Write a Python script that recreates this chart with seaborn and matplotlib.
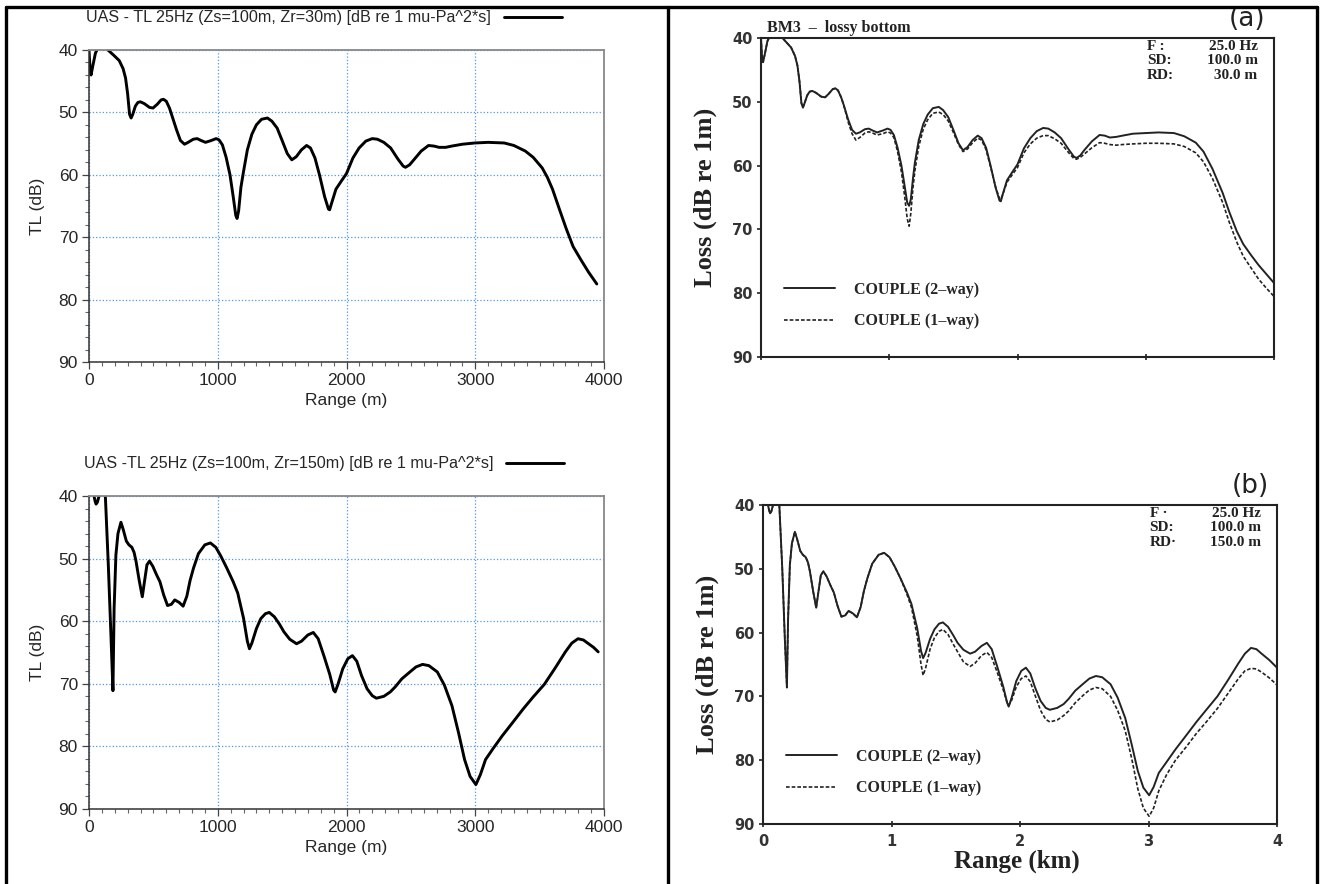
import numpy as np
import pandas as pd
import matplotlib
matplotlib.use('Agg')
import matplotlib.pyplot as plt
import seaborn as sns
from matplotlib.ticker import MultipleLocator
from matplotlib.lines import Line2D

# ---- data ----
# left top: UAS, Zr = 30 m  (range in m, TL in dB)
range_top = [0, 8, 16, 30, 50, 62, 100, 147, 190, 235,
             265, 284, 300, 315, 327, 340, 360, 380, 399, 430,
             470, 497, 530, 560, 578, 600, 625, 644, 680, 710,
             742, 770, 810, 840, 870, 905, 950, 987, 1010, 1036,
             1065, 1095, 1120, 1140, 1150, 1162, 1180, 1200, 1230, 1265,
             1300, 1340, 1386, 1420, 1461, 1500, 1540, 1575, 1610, 1650,
             1690, 1720, 1755, 1790, 1830, 1860, 1869, 1885, 1918, 1960,
             2000, 2050, 2098, 2150, 2200, 2240, 2290, 2343, 2400, 2440,
             2458, 2490, 2523, 2580, 2637, 2680, 2719, 2770, 2817, 2900,
             2997, 3100, 3225, 3300, 3389, 3450, 3520, 3560, 3600, 3650,
             3706, 3760, 3820, 3880, 3944]
tl_top = [40, 43, 44, 42.5, 40.5, 40, 38, 40, 40.8, 41.7,
          43, 44.5, 47, 50.3, 50.9, 50.3, 49, 48.4, 48.3, 48.6,
          49.2, 49.3, 48.7, 48, 47.9, 48.2, 49.3, 50.5, 52.8, 54.5,
          55.1, 54.8, 54.3, 54.2, 54.5, 54.8, 54.5, 54.2, 54.4, 55.2,
          57.2, 60, 63.5, 66.5, 67, 65.8, 62, 59.5, 56, 53.5,
          52, 51.1, 50.9, 51.4, 52.5, 54.5, 56.6, 57.6, 57.1, 56,
          55.3, 55.7, 57.3, 60, 63.5, 65.5, 65.6, 64.5, 62.3, 61,
          59.8, 57.3, 55.7, 54.6, 54.2, 54.3, 54.8, 55.7, 57.5, 58.6,
          58.8, 58.4, 57.6, 56.2, 55.3, 55.4, 55.6, 55.6, 55.4, 55.1,
          54.9, 54.8, 54.9, 55.3, 56.2, 57.2, 58.9, 60.4, 62.3, 65.3,
          68.6, 71.5, 73.6, 75.6, 77.5]

# left bottom: UAS, Zr = 150 m
range_bot = [0, 39, 47, 55, 65, 78, 100, 127, 150, 170,
             186, 195, 209, 225, 248, 265, 290, 310, 333, 350,
             365, 390, 414, 430, 450, 470, 495, 525, 551, 580,
             610, 640, 666, 700, 731, 760, 785, 812, 850, 900,
             943, 985, 1024, 1070, 1120, 1155, 1200, 1230, 1246, 1265,
             1300, 1334, 1370, 1400, 1440, 1480, 1514, 1560, 1612, 1650,
             1700, 1742, 1780, 1824, 1870, 1900, 1912, 1935, 1971, 2010,
             2046, 2080, 2117, 2160, 2200, 2232, 2290, 2340, 2378, 2430,
             2493, 2540, 2591, 2640, 2705, 2760, 2819, 2870, 2917, 2960,
             3005, 3040, 3080, 3140, 3210, 3290, 3373, 3450, 3536, 3620,
             3700, 3750, 3798, 3840, 3880, 3920, 3955]
tl_bot = [38, 40, 40.8, 41.3, 41, 40, 38, 40, 51, 62,
          71.1, 58, 49.4, 46, 44.2, 45.3, 47.2, 47.8, 48.2, 49,
          50.4, 53.5, 56.1, 53.8, 51, 50.4, 51.2, 52.6, 53.7, 55.8,
          57.5, 57.3, 56.6, 57, 57.6, 56, 53.5, 51.5, 49.2, 47.8,
          47.5, 48.2, 49.6, 51.5, 53.7, 55.5, 59.5, 63.2, 64.4, 63.5,
          61.2, 59.6, 58.8, 58.6, 59.3, 60.5, 61.7, 62.9, 63.6, 63.2,
          62.2, 61.8, 62.8, 65.5, 68.5, 71, 71.3, 70, 67.6, 66,
          65.5, 66.4, 68.7, 70.8, 71.9, 72.3, 72, 71.3, 70.5, 69.2,
          68.1, 67.3, 66.9, 67.1, 68.1, 70.2, 73.5, 77.8, 82.1, 84.8,
          86.1, 84.5, 82.1, 80.3, 78.3, 76.2, 74.0, 72.1, 70.1, 67.5,
          64.9, 63.5, 62.8, 63, 63.6, 64.2, 64.9]

# right (a): COUPLE, RD = 30 m  (range in km, loss in dB)
range_a = [0, .008, .016, .03, .05, .062, .1, .147, .19, .235,
           .265, .284, .3, .315, .327, .34, .36, .38, .4, .43,
           .47, .5, .53, .56, .58, .6, .625, .645, .68, .71,
           .74, .77, .81, .84, .87, .905, .95, .987, 1.01, 1.036,
           1.065, 1.095, 1.12, 1.14, 1.155, 1.168, 1.185, 1.2, 1.23, 1.265,
           1.3, 1.34, 1.386, 1.42, 1.46, 1.5, 1.54, 1.575, 1.61, 1.65,
           1.69, 1.72, 1.755, 1.79, 1.83, 1.86, 1.87, 1.885, 1.918, 1.96,
           2.0, 2.05, 2.1, 2.15, 2.2, 2.24, 2.29, 2.34, 2.4, 2.44,
           2.46, 2.49, 2.52, 2.58, 2.64, 2.68, 2.72, 2.77, 2.82, 2.9,
           3.0, 3.1, 3.22, 3.3, 3.39, 3.45, 3.52, 3.56, 3.6, 3.65,
           3.71, 3.76, 3.82, 3.88, 3.94, 4.0]
loss_a_2way = [40, 43, 43.8, 42.5, 40.5, 40, 38.5, 39.5, 40.5, 41.5,
               42.8, 44.3, 46.8, 50.2, 50.9, 50.2, 49, 48.4, 48.3, 48.6,
               49.2, 49.3, 48.7, 48, 47.9, 48.2, 49.3, 50.5, 52.8, 54.4,
               55, 54.8, 54.3, 54.2, 54.5, 54.8, 54.5, 54.2, 54.4, 55.2,
               57.2, 60, 63.2, 65.8, 66.3, 65.3, 62, 59.5, 56, 53.5,
               52, 51, 50.8, 51.3, 52.4, 54.4, 56.5, 57.6, 57.1, 56,
               55.3, 55.7, 57.2, 60, 63.5, 65.5, 65.6, 64.5, 62.3, 61,
               59.8, 57.3, 55.7, 54.6, 54.1, 54.2, 54.8, 55.7, 57.5, 58.6,
               58.8, 58.4, 57.6, 56.2, 55.2, 55.3, 55.6, 55.5, 55.3, 55.0,
               54.9, 54.8, 54.9, 55.4, 56.4, 57.8, 60.5, 62.4, 64.3, 67.2,
               70.3, 72.3, 74.0, 75.6, 77.0, 78.4]
loss_a_1way = [40, 43, 43.8, 42.5, 40.5, 40, 38.5, 39.5, 40.5, 41.5,
               42.8, 44.3, 46.8, 50.2, 50.9, 50.2, 49, 48.4, 48.3, 48.6,
               49.2, 49.3, 48.7, 48, 47.9, 48.2, 49.3, 50.5, 53.2, 55.0,
               56.0, 55.6, 54.9, 54.7, 54.9, 55.2, 55.0, 54.7, 54.9, 55.6,
               57.8, 61, 64.8, 68.3, 69.5, 67.5, 63.5, 60.8, 57, 54.3,
               52.8, 51.8, 51.6, 52.0, 53.0, 54.8, 56.7, 57.8, 57.4, 56.4,
               55.7, 56.0, 57.5, 60.2, 63.4, 65.2, 65.3, 64.5, 62.6, 61.4,
               60.3, 58, 56.6, 55.7, 55.3, 55.3, 55.8, 56.5, 58.0, 58.9,
               59.0, 58.7, 58.2, 57.2, 56.4, 56.5, 56.7, 56.8, 56.7, 56.6,
               56.5, 56.5, 56.6, 57.0, 58.0, 59.4, 62.0, 63.9, 65.8, 68.8,
               72.0, 74.2, 76.0, 77.8, 79.2, 80.5]

# right (b): COUPLE, RD = 150 m
range_b = [0, .039, .047, .055, .065, .078, .1, .127, .15, .17,
           .186, .195, .209, .225, .248, .265, .29, .31, .333, .35,
           .365, .39, .414, .43, .45, .47, .495, .525, .551, .58,
           .61, .64, .666, .7, .731, .76, .785, .812, .85, .9,
           .943, .985, 1.024, 1.07, 1.12, 1.155, 1.2, 1.23, 1.246, 1.265,
           1.3, 1.334, 1.37, 1.4, 1.44, 1.48, 1.514, 1.56, 1.612, 1.65,
           1.7, 1.742, 1.78, 1.824, 1.87, 1.9, 1.912, 1.935, 1.971, 2.01,
           2.046, 2.08, 2.117, 2.16, 2.2, 2.232, 2.29, 2.34, 2.378, 2.43,
           2.493, 2.54, 2.591, 2.64, 2.705, 2.76, 2.819, 2.87, 2.917, 2.96,
           3.005, 3.04, 3.08, 3.14, 3.21, 3.29, 3.373, 3.45, 3.536, 3.62,
           3.7, 3.75, 3.798, 3.84, 3.88, 3.94, 4.0]
loss_b_2way = [38, 40, 40.8, 41.3, 41, 40, 38.5, 40, 50, 61,
               68.6, 58, 49.4, 46, 44.2, 45.3, 47.2, 47.8, 48.2, 49,
               50.4, 53.5, 56.1, 53.8, 51, 50.4, 51.2, 52.6, 53.7, 55.8,
               57.5, 57.3, 56.6, 57, 57.6, 56, 53.5, 51.5, 49.2, 47.8,
               47.5, 48.2, 49.6, 51.5, 53.7, 55.5, 59.3, 62.9, 64.0, 63.2,
               61, 59.5, 58.6, 58.4, 59.1, 60.4, 61.6, 62.7, 63.3, 63,
               62.1, 61.6, 62.6, 65.4, 68.5, 71, 71.6, 70.2, 67.6, 66,
               65.5, 66.4, 68.6, 70.7, 71.8, 72.1, 71.8, 71.2, 70.4, 69.1,
               68, 67.2, 66.8, 67, 68.1, 70.2, 73.4, 77.6, 81.7, 84.3,
               85.5, 84.2, 82, 80.3, 78.3, 76.2, 74.0, 72.1, 70.0, 67.4,
               64.8, 63.3, 62.4, 62.6, 63.3, 64.3, 65.5]
loss_b_1way = [38, 40, 40.8, 41.3, 41, 40, 38.5, 40, 50, 61,
               68.6, 58, 49.4, 46, 44.2, 45.3, 47.2, 47.8, 48.2, 49,
               50.4, 53.5, 56.1, 53.8, 51, 50.4, 51.2, 52.6, 53.7, 55.8,
               57.5, 57.3, 56.6, 57, 57.6, 56, 53.5, 51.5, 49.2, 47.8,
               47.5, 48.2, 49.6, 51.5, 54.0, 56.0, 60.5, 65.0, 66.7, 65.6,
               62.6, 60.8, 59.8, 59.5, 60.3, 61.8, 63.0, 64.6, 65.3, 64.8,
               63.6, 63.1, 63.9, 66.3, 69.0, 71.0, 71.4, 70.6, 68.5, 67.2,
               66.8, 67.7, 69.8, 72.2, 73.6, 74.0, 73.7, 73.0, 72.3, 71.0,
               69.8, 69.0, 68.6, 68.8, 70.0, 72.2, 75.4, 79.8, 84.5, 87.5,
               88.8, 87.5, 84.8, 82.3, 80.0, 78.0, 75.8, 74.0, 71.9, 69.5,
               67.2, 66.0, 65.6, 65.7, 66.2, 67.1, 68.2]

title_top = 'UAS - TL 25Hz (Zs=100m, Zr=30m) [dB re 1 mu-Pa^2*s]'
title_bot = 'UAS -TL 25Hz (Zs=100m, Zr=150m) [dB re 1 mu-Pa^2*s]'
info_a = [('F :', '25.0 Hz'), ('SD:', '100.0 m'), ('RD:', '30.0 m')]
info_b = [('F \u00b7', '25.0 Hz'), ('SD:', '100.0 m'), ('RD\u00b7', '150.0 m')]

sns.set_style('white')
plt.rcParams['font.family'] = ['Liberation Sans', 'DejaVu Sans']

W, H = 1322, 884
fig = plt.figure(figsize=(W / 100, H / 100), dpi=100)


def box(x0, y0, x1, y1):
    return [x0 / W, 1 - y1 / H, (x1 - x0) / W, (y1 - y0) / H]


# ---- left panels (UAS) ----
def uas_panel(ax, r, tl, label):
    sns.lineplot(x=r, y=tl, ax=ax, color='black', lw=2.1, label=label)
    ax.set_xlim(0, 4000)
    ax.set_ylim(90, 40)
    ax.xaxis.set_major_locator(MultipleLocator(1000))
    ax.xaxis.set_minor_locator(MultipleLocator(100))
    ax.yaxis.set_major_locator(MultipleLocator(10))
    ax.yaxis.set_minor_locator(MultipleLocator(2))
    ax.tick_params(which='major', direction='out', length=5, width=0.9, color='#444',
                   labelsize=12.5, pad=3, bottom=True, left=True)
    ax.tick_params(which='minor', direction='out', length=3, width=0.8, color='#666',
                   bottom=True, left=True)
    ax.grid(True, which='major', color='#4a9be8', ls=':', lw=0.9)
    for s in ['left', 'bottom']:
        ax.spines[s].set_color('#333')
        ax.spines[s].set_linewidth(1.1)
    for s in ['top', 'right']:
        ax.spines[s].set_color('#888')
        ax.spines[s].set_linewidth(1.3)
    ax.set_xlabel('Range (m)', fontsize=12.5)
    ax.set_ylabel('TL (dB)', fontsize=12.5)
    ax.xaxis.set_label_coords(0.5, -0.1)
    ax.yaxis.set_label_coords(-0.085, 0.5)
    ax.legend(loc='center', bbox_to_anchor=(0.456, 1.103), frameon=False, markerfirst=False,
              handlelength=3.6, handletextpad=0.8, fontsize=11.6, borderaxespad=0)


ax1 = fig.add_axes(box(89, 50, 604, 362))
uas_panel(ax1, range_top, tl_top, title_top)
ax2 = fig.add_axes(box(89, 496, 604, 809))
uas_panel(ax2, range_bot, tl_bot, title_bot)

# ---- right panels (COUPLE, scanned figure) ----
serif_b = dict(family=['Liberation Serif', 'DejaVu Serif'], weight='bold')


def couple_panel(ax, r, l2, l1, info, tag, xlabels):
    sns.lineplot(x=r, y=l2, ax=ax, color='#222', lw=1.4, label='COUPLE (2\u2013way)')
    sns.lineplot(x=r, y=l1, ax=ax, color='#222', lw=1.2, dashes=False,
                 linestyle=(0, (2.2, 1.2)), label='COUPLE (1\u2013way)')
    ax.set_xlim(0, 4)
    ax.set_ylim(90, 40)
    ax.set_xticks([0, 1, 2, 3, 4])
    ax.set_yticks([40, 50, 60, 70, 80, 90])
    ax.tick_params(axis='y', direction='out', length=3, width=1.2, color='#222', pad=3,
                   left=True, labelsize=10.5, labelcolor='#333')
    ax.tick_params(axis='x', direction='inout', length=4, width=1.2, color='#222', pad=5,
                   bottom=True, labelsize=10.5, labelcolor='#333', labelbottom=xlabels)
    for t in ax.get_yticklabels() + ax.get_xticklabels():
        t.set_fontweight('bold')
        t.set_family(['DejaVu Sans'])
    for s in ax.spines.values():
        s.set_color('#222')
        s.set_linewidth(1.5)
    ax.set_xlabel('Range (km)' if xlabels else '', fontsize=18, color='#222', **serif_b)
    ax.set_ylabel('Loss (dB re 1m)', fontsize=19, color='#222', **serif_b)
    ax.xaxis.set_label_coords(0.494, -0.08)
    ax.yaxis.set_label_coords(-0.085, 0.5)
    ax.legend(loc='upper left', bbox_to_anchor=(0.045, 0.235), frameon=False, borderpad=0,
              borderaxespad=0, handlelength=3.2, handletextpad=1.2, labelspacing=0.95,
              prop=dict(family=['Liberation Serif', 'DejaVu Serif'], weight='bold', size=11.5))
    for i, (k, v) in enumerate(info):
        y = 0.972 - i * 0.044
        ax.text(0.752, y, k, transform=ax.transAxes, ha='left', va='center',
                fontsize=11, color='#222', **serif_b)
        ax.text(0.968, y, v, transform=ax.transAxes, ha='right', va='center',
                fontsize=11, color='#222', **serif_b)
    ax.text(0.948, 1.058, tag, transform=ax.transAxes, ha='center', va='center',
            fontsize=19, color='#222', family=['DejaVu Sans'])


ax3 = fig.add_axes(box(761, 38, 1274, 357))
couple_panel(ax3, range_a, loss_a_2way, loss_a_1way, info_a, '(a)', False)
ax3.text(0.012, 1.03, 'BM3  \u2013  lossy bottom', transform=ax3.transAxes, ha='left',
         va='center', fontsize=11.5, color='#222', **serif_b)

ax4 = fig.add_axes(box(763, 505, 1277, 824))
couple_panel(ax4, range_b, loss_b_2way, loss_b_1way, info_b, '(b)', True)

# ---- outer frame and divider ----
for xs, ys in [([6, 6], [7, 884]), ([6, 1317], [7, 7]), ([1317, 1317], [7, 884]),
               ([668, 668], [7, 884])]:
    fig.add_artist(Line2D([x / W for x in xs], [1 - y / H for y in ys], color='black',
                          lw=2.4, transform=fig.transFigure))

fig.savefig('out.png', dpi=100)
